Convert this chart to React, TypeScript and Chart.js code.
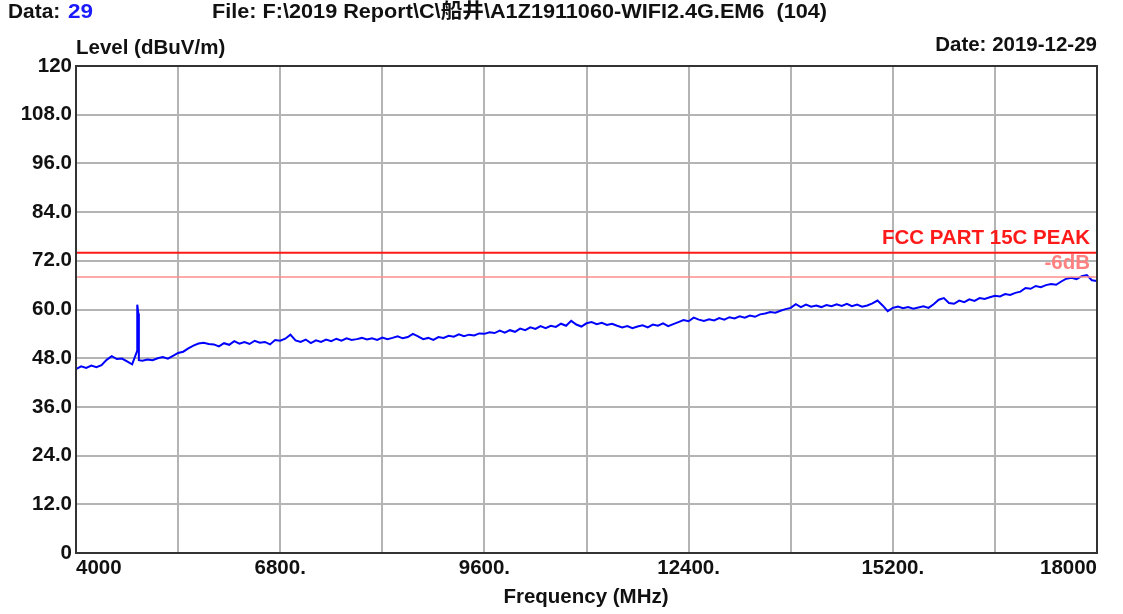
import React, { useEffect, useRef } from "react";
import { Chart, registerables } from "chart.js";

Chart.register(...registerables);

// Sweep: 4000 MHz to 18000 MHz, one reading every 70 MHz
const sweepStart = 4000;
const sweepStep = 70;
const levels: number[] = [
  45.3, 46.0, 45.6, 46.2, 45.8, 46.3, 47.6, 48.5, 47.8, 47.9,
  47.2, 46.5, 49.9, 47.4, 47.7, 47.5, 48.0, 48.3, 47.9, 48.6,
  49.3, 49.6, 50.4, 51.1, 51.6, 51.8, 51.5, 51.4, 50.9, 51.7,
  51.3, 52.2, 51.6, 52.0, 51.5, 52.3, 51.8, 52.0, 51.4, 52.5,
  52.3, 52.8, 53.8, 52.4, 52.0, 52.6, 51.7, 52.4, 52.0, 52.6,
  52.2, 52.8, 52.3, 52.9, 52.5, 52.7, 53.0, 52.6, 52.9, 52.5,
  53.1, 52.7, 53.0, 53.4, 52.9, 53.2, 54.0, 53.4, 52.7, 53.0,
  52.5, 53.2, 53.0, 53.5, 53.3, 53.9, 53.4, 53.8, 53.6, 54.1,
  54.0, 54.4, 54.2, 54.8, 54.3, 54.9, 54.5, 55.3, 54.9, 55.6,
  55.2, 55.9, 55.4, 56.0, 55.7, 56.5, 56.0, 57.2, 56.3, 55.8,
  56.6, 56.9, 56.4, 56.7, 56.2, 56.5, 56.0, 55.6, 55.9, 55.4,
  55.8, 56.1, 55.6, 56.3, 56.0, 56.6, 55.9, 56.4, 56.9, 57.4,
  57.1, 58.0, 57.5, 57.2, 57.6, 57.3, 57.9, 57.5, 58.1, 57.8,
  58.3, 58.0, 58.5, 58.2, 58.8, 59.0, 59.4, 59.2, 59.7, 60.1,
  60.4, 61.3, 60.6, 61.2, 60.7, 61.0, 60.6, 61.1, 60.8, 61.3,
  60.9, 61.4, 60.8, 61.2, 60.7, 61.0, 61.5, 62.2, 61.0, 59.6,
  60.4, 60.7, 60.3, 60.6, 60.2, 60.5, 60.8, 60.4, 61.3, 62.4,
  62.8, 61.6, 61.4, 62.2, 61.8, 62.5, 62.1, 62.8, 62.6, 63.0,
  63.4, 63.2, 63.8, 63.6, 64.1, 64.4, 65.3, 65.1, 65.8, 65.5,
  66.0, 66.3, 66.1, 66.9, 67.6, 67.8, 67.5, 68.2, 68.5, 67.2,
  67.0,
];

// Harmonic spike near 4840 MHz
const spikeFreqs: number[] = [4840, 4855, 4862];
const spikeLevels: number[] = [61.2, 59.0, 47.5];

const limitFreqs: number[] = [4000, 18000];
const peakLimit: number[] = [74, 74];
const marginLimit: number[] = [68, 68];

const xTickValues: number[] = [4000, 6800, 9600, 12400, 15200, 18000];
const xTickLabels: string[] = ["4000", "6800.", "9600.", "12400.", "15200.", "18000"];

const FONT_FAMILY = '"Liberation Sans", Arial, "Noto Sans CJK SC", sans-serif';
const FONT = `bold 20.5px ${FONT_FAMILY}`;

function fillStretched(ctx: CanvasRenderingContext2D, text: string, x: number, y: number, width: number) {
  const w = ctx.measureText(text).width;
  ctx.save();
  ctx.translate(x, y);
  ctx.scale(width / w, 1);
  ctx.fillText(text, 0, 0);
  ctx.restore();
}

const textPlugin = {
  id: "texts",
  afterDraw(chart: any) {
    const ctx = chart.ctx as CanvasRenderingContext2D;
    const { chartArea } = chart;
    const y = chart.scales.y;
    ctx.save();
    ctx.strokeStyle = "#333333";
    ctx.lineWidth = 2;
    ctx.strokeRect(chartArea.left, chartArea.top, chartArea.right - chartArea.left, chartArea.bottom - chartArea.top);

    ctx.font = FONT;
    ctx.textBaseline = "middle";
    ctx.textAlign = "left";
    ctx.fillStyle = "#111111";
    fillStretched(ctx, "Data: ", 8, 12, 58);
    ctx.fillStyle = "#1a1aff";
    fillStretched(ctx, "29", 68, 12, 25);
    ctx.fillStyle = "#111111";
    fillStretched(ctx, "File: F:\\2019 Report\\C\\船井\\A1Z1911060-WIFI2.4G.EM6  (104)", 212, 12, 615);
    ctx.fillText("Level (dBuV/m)", 76, 48);
    ctx.textAlign = "right";
    ctx.fillText("Date: 2019-12-29", 1097, 45);
    ctx.textAlign = "center";
    ctx.fillText("Frequency (MHz)", 586, 597);

    ctx.textAlign = "right";
    ctx.fillStyle = "#ff1a1a";
    ctx.fillText("FCC PART 15C PEAK", 1090, y.getPixelForValue(peakLimit[0]) - 14);
    ctx.fillStyle = "#ff8080";
    ctx.fillText("-6dB", 1090, y.getPixelForValue(marginLimit[0]) - 14);
    ctx.restore();
  },
};

export default function App() {
  const ref = useRef<HTMLCanvasElement | null>(null);
  useEffect(() => {
    if (!ref.current) return;
    const trace = levels.map((v, i) => ({ x: sweepStart + i * sweepStep, y: v }));
    const spikes = spikeFreqs.map((f, i) => ({ x: f, y: spikeLevels[i] }));
    const data = [...trace, ...spikes].sort((a, b) => a.x - b.x);
    const chart = new Chart(ref.current, {
      type: "line",
      data: {
        datasets: [
          {
            data: limitFreqs.map((f, i) => ({ x: f, y: peakLimit[i] })),
            borderColor: "#ff1a1a",
            borderWidth: 2,
            pointRadius: 0,
          },
          {
            data: limitFreqs.map((f, i) => ({ x: f, y: marginLimit[i] })),
            borderColor: "#ff8c8c",
            borderWidth: 1.5,
            pointRadius: 0,
          },
          {
            data,
            borderColor: "#0000ff",
            borderWidth: 2,
            pointRadius: 0,
            tension: 0,
          },
        ],
      },
      options: {
        responsive: false,
        animation: false,
        events: [],
        layout: { padding: { top: 66, right: 26, left: 0, bottom: 0 } },
        plugins: { legend: { display: false }, tooltip: { enabled: false } },
        scales: {
          x: {
            type: "linear",
            min: 4000,
            max: 18000,
            afterBuildTicks(scale: any) {
              const t: any[] = [];
              for (let v = 4000; v <= 18000; v += 1400) t.push({ value: v });
              scale.ticks = t;
            },
            afterFit(scale: any) {
              scale.height = 61;
            },
            grid: { color: "#b4b4b4", lineWidth: 2, drawTicks: false },
            border: { display: false },
            ticks: {
              align: "inner",
              autoSkip: false,
              maxRotation: 0,
              padding: 3,
              color: "#111111",
              font: { family: FONT_FAMILY, size: 20.5, weight: "bold" },
              callback: (v: any) => {
                const idx = xTickValues.indexOf(Number(v));
                return idx >= 0 ? xTickLabels[idx] : "";
              },
            },
          },
          y: {
            min: 0,
            max: 120,
            afterFit(scale: any) {
              scale.width = 76;
            },
            grid: { color: "#b4b4b4", lineWidth: 2, drawTicks: false },
            border: { display: false },
            ticks: {
              stepSize: 12,
              padding: 4,
              color: "#111111",
              font: { family: FONT_FAMILY, size: 20.5, weight: "bold" },
              callback: (v: any) => {
                const n = Number(v);
                if (n === 0) return "0";
                if (n === 120) return "120";
                return n.toFixed(1);
              },
            },
          },
        },
      },
      plugins: [textPlugin],
    });
    return () => chart.destroy();
  }, []);
  return (
    <div style={{ position: "fixed", left: 0, top: 0, width: 1123, height: 614, background: "#ffffff" }}>
      <canvas ref={ref} width={1123} height={614} style={{ display: "block" }} />
    </div>
  );
}
